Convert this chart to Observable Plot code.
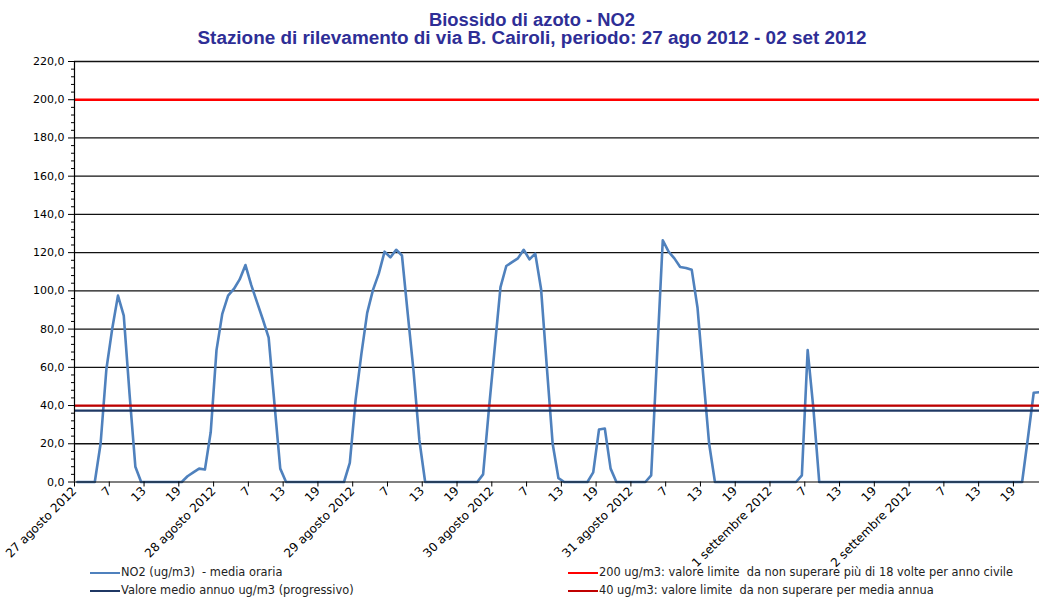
<!DOCTYPE html>
<html>
<head>
<meta charset="utf-8">
<script src="https://cdn.jsdelivr.net/npm/d3@7"></script>
<script src="https://cdn.jsdelivr.net/npm/@observablehq/plot@0.6"></script>
<style>
  html, body { margin: 0; padding: 0; background: #fff; }
  #wrap { position: relative; width: 1039px; height: 598px; overflow: hidden; background: #fff; }
  .title { position: absolute; left: 532px; white-space: nowrap; font-family: "Liberation Sans Narrow", "Liberation Sans", sans-serif; font-weight: bold; font-size: 18px; color: #2e2e96; transform-origin: 0 0; line-height: 1; }
  #chart { position: absolute; left: 0; top: 50px; }
  .leg { position: absolute; font-family: "DejaVu Sans", sans-serif; font-size: 11.4px; color: #222; white-space: nowrap; line-height: 1; }
  .sw { display: inline-block; width: 30px; vertical-align: middle; margin-right: 1px; }
</style>
</head>
<body>
<div id="wrap">
  <div class="title" id="t1" style="top:11px">Biossido di azoto - NO2</div>
  <div class="title" id="t2" style="top:29px">Stazione di rilevamento di via B. Cairoli, periodo: 27 ago 2012 - 02 set 2012</div>
  <div id="chart"></div>
  <div class="leg" style="left:90px; top:567px"><span class="sw" style="border-top:2.5px solid #4f81bd"></span>NO2 (ug/m3) &nbsp;- media oraria</div>
  <div class="leg" style="left:90px; top:585px"><span class="sw" style="border-top:2.5px solid #1f3864"></span>Valore medio annuo ug/m3 (progressivo)</div>
  <div class="leg" style="left:568px; top:567px"><span class="sw" style="border-top:2px solid #ff0000"></span>200 ug/m3: valore limite &nbsp;da non superare più di 18 volte per anno civile</div>
  <div class="leg" style="left:568px; top:585px"><span class="sw" style="border-top:2.5px solid #c00000"></span>40 ug/m3: valore limite &nbsp;da non superare per media annua</div>
</div>
<script>
// Hourly NO2 values (ug/m3), from 27 agosto 2012 01:00, one per hour
const no2Day27 = [0,0,0,0,20,59,80,97.5,87,46,8,0, 0,0,0,0,0,0,0,3,5,7,6.5,26];
const no2Day28 = [69,88,97.5,101,106,113.5,103,94,85,75.5,41,7, 0,0,0,0,0,0,0,0,0,0,0,10];
const no2Day29 = [43,67,88.5,100.5,109,120.5,117.5,121.5,118.5,88,58,22, 0,0,0,0,0,0,0,0,0,0,4,38];
const no2Day30 = [70,102,113,115,117,121.5,116.5,119.5,101,60,20,2, 0,0,0,0,0,5,27.5,28,7,0,0,0];
const no2Day31 = [0,0,0,3.5,65,126.5,120.5,117,112.5,112,111,91, 55,20,0,0,0,0,0,0,0,0,0,0];
const no2Day01 = [0,0,0,0,0,3.5,69,38,0,0,0,0, 0,0,0,0,0,0,0,0,0,0,0,0];
const no2Day02 = [0,0,0,0,0,0,0,0,0,0,0,0, 0,0,0,0,0,0,0,0,23,46.7,47];
const no2 = [...no2Day27, ...no2Day28, ...no2Day29, ...no2Day30, ...no2Day31, ...no2Day01, ...no2Day02];

const dayLabels = ["27 agosto 2012","28 agosto 2012","29 agosto 2012","30 agosto 2012","31 agosto 2012","1 settembre 2012","2 settembre 2012"];
const hourLabels = ["7","13","19"];
const yTicks = [0,20,40,60,80,100,120,140,160,180,200,220];
const limitHourly = [200];
const limitAnnual = [40];
const annualMean = [37.3];

const data = no2.map((v, i) => ({x: i + 0.5, v}));
const xTicks = d3.range(0, 163, 6);
const xLabel = t => {
  const k = t / 6;
  return k % 4 === 0 ? dayLabels[k / 4] : hourLabels[(k % 4) - 1];
};
const minorTicks = d3.range(0, 221, 4).filter(d => d % 20 !== 0);

const chart = Plot.plot({
  width: 1039,
  height: 515,
  marginLeft: 74,
  marginRight: 0,
  marginTop: 11,
  marginBottom: 83.5,
  style: {fontFamily: "DejaVu Sans, sans-serif", fontSize: "11px", color: "#000", background: "transparent", overflow: "visible"},
  x: {type: "linear", domain: [0, no2.length - 0.5]},
  y: {domain: [0, 220]},
  marks: [
    Plot.ruleY(yTicks.filter(d => d > 0), {stroke: "#111", strokeWidth: 1.3}),
    Plot.line(data, {x: "x", y: "v", stroke: "#4f81bd", strokeWidth: 2.6, strokeLinejoin: "round"}),
    Plot.ruleY(limitHourly, {stroke: "#ff0000", strokeWidth: 2.3}),
    Plot.ruleY(annualMean, {stroke: "#1f3864", strokeWidth: 2.3}),
    Plot.ruleY(limitAnnual, {stroke: "#c00000", strokeWidth: 2.3}),
    Plot.ruleX([0], {stroke: "#000", strokeWidth: 1.2}),
    Plot.ruleY([0], {stroke: "#000", strokeWidth: 1.2}),
    Plot.axisY({ticks: minorTicks, tickSize: 3, tickFormat: () => "", label: null}),
    Plot.axisY({ticks: yTicks, tickSize: 6, tickPadding: 4, tickFormat: d => d.toFixed(1).replace(".", ","), label: null}),
    Plot.axisX({ticks: xTicks, tickSize: 5, tickPadding: 2, tickRotate: -45, fontSize: 12, tickFormat: xLabel, label: null})
  ]
});
document.getElementById("chart").appendChild(chart);

// fit title widths to the reference
function fit(id, w) {
  const el = document.getElementById(id);
  const cw = el.getBoundingClientRect().width;
  const s = w / cw;
  el.style.transform = `scaleX(${s}) translateX(-50%)`;
}
fit("t1", 206);
fit("t2", 669);
</script>
</body>
</html>
